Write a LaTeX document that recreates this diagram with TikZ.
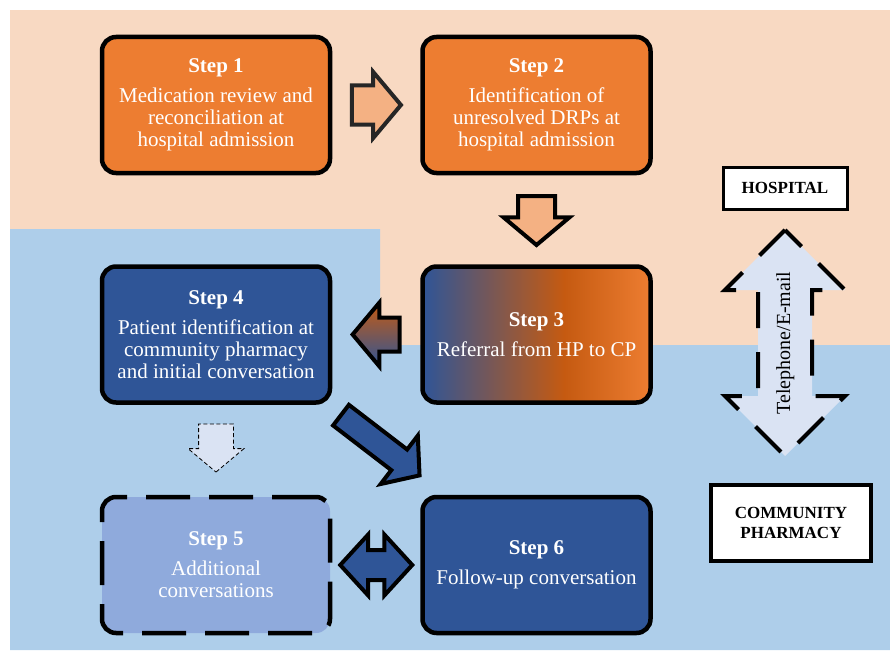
\documentclass[tikz,border=0pt]{standalone}
\usepackage{fontspec}
\setmainfont{Liberation Serif}
\usepackage{tikz}
\usetikzlibrary{positioning, shapes.arrows, calc}
\usepackage{xcolor}
\definecolor{hpbg}{HTML}{F8D9C2}
\definecolor{cpbg}{HTML}{AECEEA}
\definecolor{hporange}{HTML}{ED7D31}
\definecolor{burnt}{HTML}{C55A11}
\definecolor{cpblue}{HTML}{2F5597}
\definecolor{paleblue}{HTML}{8FAADC}
\definecolor{lightorange}{HTML}{F4B183}
\definecolor{iceblue}{HTML}{DAE3F3}
\definecolor{edge}{HTML}{262626}
\pgfdeclarehorizontalshading{referral}{100bp}{color(0bp)=(cpblue); color(25bp)=(cpblue); color(56bp)=(burnt); color(75bp)=(hporange); color(100bp)=(hporange)}
\tikzstyle{stepbox} = [rectangle, rounded corners=14pt,
minimum width=228pt,
minimum height=136pt,
line width=4.5pt,
align=center,
text=white,
draw=black,
font=\fontsize{21}{22}\selectfont]
\tikzstyle{hpstep} = [stepbox, fill=hporange]
\tikzstyle{cpstep} = [stepbox, fill=cpblue]
\tikzstyle{place} = [rectangle,
draw=black,
fill=white,
align=center,
font=\fontsize{17}{20}\selectfont\bfseries]
\tikzstyle{fatarrow} = [single arrow, draw=black, line width=4pt,
inner xsep=0pt,
single arrow tip angle=100,
minimum height=49pt]
\tikzstyle{twoway} = [double arrow, draw=black, line width=4pt,
inner xsep=0pt]

\begin{document}
\begin{tikzpicture}[x=1pt, y=-1pt]
        \useasboundingbox (0,0) rectangle (890,650);
        \fill [hpbg] (10,10) rectangle (890,345);
        \fill [cpbg] (10,229) -- (380,229) -- (380,345) -- (890,345) -- (890,650) -- (10,650) -- cycle;

        \node (s1) [hpstep] at (216,105) {\textbf{Step 1}\\[8pt]Medication review and\\reconciliation at\\hospital admission};
        \node (s2) [hpstep, right=88pt of s1] {\textbf{Step 2}\\[8pt]Identification of\\unresolved DRPs at\\hospital admission};
        \node (s3) [stepbox, shading=referral, below=89pt of s2] {\textbf{Step 3}\\[8pt]Referral from HP to CP};
        \node (s4) [cpstep, below=89pt of s1] {\textbf{Step 4}\\[8pt]Patient identification at\\community pharmacy\\and initial conversation};
        \node (s5) [stepbox, fill=paleblue, dash pattern=on 44pt off 19pt, below=90pt of s4] {\textbf{Step 5}\\[8pt]Additional\\conversations};
        \node (s6) [cpstep, right=88pt of s5] {\textbf{Step 6}\\[8pt]Follow-up conversation};

        \node (a12) [fatarrow, draw=edge, fill=lightorange, inner ysep=17.5pt, single arrow head extend=13.5pt, xshift=-8pt] at ($(s1)!0.5!(s2)$) {};
        \node (a23) [fatarrow, fill=lightorange, shape border rotate=270, inner ysep=0pt, inner xsep=16.5pt, single arrow head extend=14.5pt, yshift=7pt] at ($(s2)!0.5!(s3)$) {};
        \node (a34) [fatarrow, top color=burnt, bottom color=cpblue, shape border rotate=180, minimum height=47pt, inner ysep=15pt, single arrow head extend=15pt, xshift=7pt] at ($(s3)!0.5!(s4)$) {};
        \node (a45) [fatarrow, fill=iceblue, line width=0.8pt, dash pattern=on 4pt off 2.5pt, shape border rotate=270, minimum height=48pt, inner ysep=0pt, inner xsep=17pt, single arrow head extend=10.5pt, yshift=9pt] at ($(s4)!0.5!(s5)$) {};
        \node (a46) [fatarrow, fill=cpblue, rotate=-37.5, minimum height=99pt, inner ysep=11pt, single arrow head extend=17.5pt, xshift=-5pt, yshift=6pt] at ($(s4)!0.5!(s6)$) {};
        \node (a56) [twoway, fill=cpblue, minimum height=72pt, inner ysep=13pt, double arrow head extend=15.5pt, double arrow tip angle=95] at ($(s5)!0.5!(s6)$) {};

        \node (hosp) [place, line width=3pt, minimum width=124pt, minimum height=42pt] at (785,188) {HOSPITAL};
        \node (comm) [place, line width=4pt, minimum width=160pt, minimum height=76pt] at (791,523) {COMMUNITY\\PHARMACY};
        \node (tel) [twoway, fill=iceblue, dash pattern=on 36pt off 24pt, rotate=90, minimum height=226pt, text height=14pt, text depth=4pt, inner ysep=16pt, double arrow head extend=33pt, double arrow tip angle=90, font=\fontsize{20}{20}\selectfont] at (785,343) {Telephone/E-mail};
    \end{tikzpicture}
\end{document}
